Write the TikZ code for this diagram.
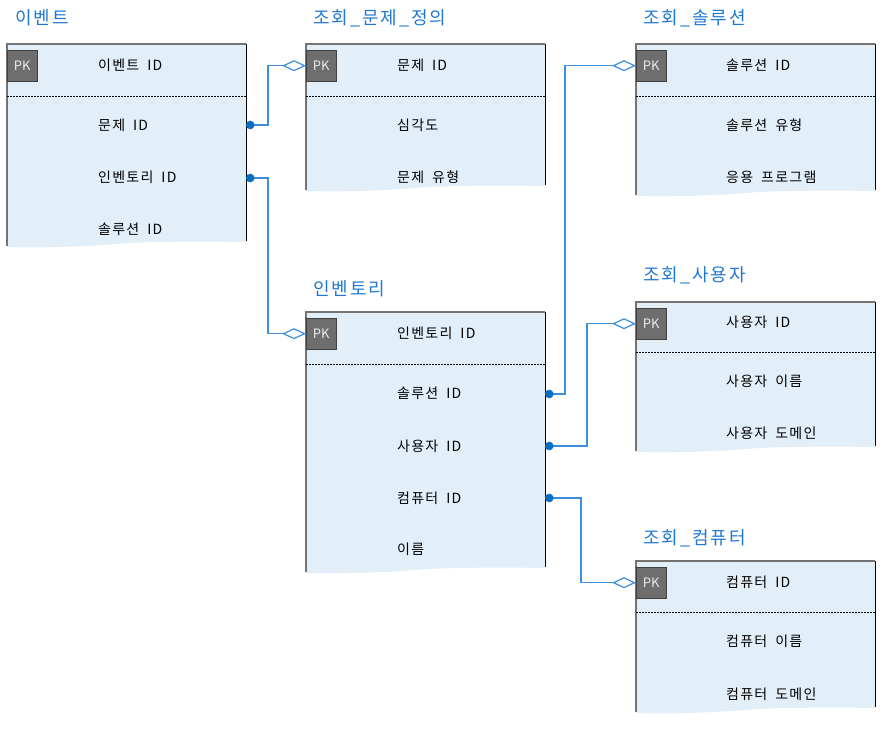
\documentclass[tikz,border=0pt]{standalone}
\usepackage{fontspec}
\setmainfont{Noto Sans CJK KR}
\newfontfamily\fieldfont[LetterSpace=9, WordSpace=1.8]{Noto Sans CJK KR}
\usetikzlibrary{arrows.meta, positioning}

\definecolor{titleblue}{HTML}{1F78D1}
\definecolor{linkblue}{HTML}{3D8FDD}
\definecolor{dotblue}{HTML}{0A6CC2}
\definecolor{rowfill}{HTML}{E3EFF8}
\definecolor{pkgray}{HTML}{6E6E6E}

\begin{document}
\begin{tikzpicture}[
  x=1pt, y=-1pt,
  title/.style={anchor=west, text=titleblue, inner sep=0,
                font=\fontsize{18}{20}\selectfont\addfontfeature{LetterSpace=11}},
  field/.style={anchor=west, inner sep=0,
                font=\fieldfont\fontsize{14}{16}\selectfont},
  pk/.style={draw=black!75, fill=pkgray, text=white!92!black, anchor=north west,
             minimum width=30pt, minimum height=31pt, inner sep=0,
             font=\fontsize{13}{15}\selectfont},
  fk/.style={draw=linkblue, line width=1.2pt,
             {Circle[length=8.5pt, color=dotblue]}-{Diamond[length=24pt, width=11pt, fill=white]}}
]
  \useasboundingbox (0,0) rectangle (882,744);

  % table frames
  \foreach \x/\t/\d/\b [count=\i] in {7/44/96/247, 306/44/96/191, 636/44/96/196,
                                      306/312/364/573, 636/302/352/452, 636/561/612/713} {
    \fill[rowfill] (\x,\t) -- (\x+239,\t) -- (\x+239,\b-5)
      .. controls (\x+180,\b-6) and (\x+130,\b-5) .. (\x+110,\b-3)
      .. controls (\x+70,\b) and (\x+30,\b+1) .. (\x,\b) -- cycle;
    \draw[black!55, line width=1.4pt] (\x,\b-1) -- (\x,\t) -- (\x+239,\t);
    \draw[black, line width=0.9pt] (\x+239,\t) -- (\x+239,\b-6);
    \draw[black, line width=0.8pt, dash pattern=on 2pt off 1pt] (\x,\d) -- (\x+239,\d);
    \node[pk] (pk\i) at (\x,\t+6) {PK};
  }

  % titles
  \node[title] (evt)  at (15,18)  {이벤트};
  \node[title] (prob) at (313,18) {조회\_문제\_정의};
  \node[title] (sol)  at (643,18) {조회\_솔루션};
  \node[title] (inv)  at (313,289) {인벤토리};
  \node[title] (usr)  at (643,275) {조회\_사용자};
  \node[title] (comp) at (643,538) {조회\_컴퓨터};

  % fields
  \node[field] (evtId)    at (98,65)   {이벤트 ID};
  \node[field] (evtProb)  at (98,125)  {문제 ID};
  \node[field] (evtInv)   at (98,177)  {인벤토리 ID};
  \node[field] (evtSol)   at (98,229)  {솔루션 ID};
  \node[field] (probId)   at (397,65)  {문제 ID};
  \node[field] (probSev)  at (397,125) {심각도};
  \node[field] (probType) at (397,177) {문제 유형};
  \node[field] (solId)    at (726,65)  {솔루션 ID};
  \node[field] (solType)  at (726,125) {솔루션 유형};
  \node[field] (solApp)   at (726,177) {응용 프로그램};
  \node[field] (invId)    at (397,333) {인벤토리 ID};
  \node[field] (invSol)   at (397,393) {솔루션 ID};
  \node[field] (invUsr)   at (397,446) {사용자 ID};
  \node[field] (invComp)  at (397,498) {컴퓨터 ID};
  \node[field] (invName)  at (397,549) {이름};
  \node[field] (usrId)    at (726,322) {사용자 ID};
  \node[field] (usrName)  at (726,381) {사용자 이름};
  \node[field] (usrDom)   at (726,433) {사용자 도메인};
  \node[field] (compId)   at (726,582) {컴퓨터 ID};
  \node[field] (compName) at (726,641) {컴퓨터 이름};
  \node[field] (compDom)  at (726,694) {컴퓨터 도메인};

  % foreign key ends
  \coordinate (evtProbR) at (246,125);
  \coordinate (evtInvR)  at (246,178);
  \coordinate (invSolR)  at (545,394);
  \coordinate (invUsrR)  at (545,446);
  \coordinate (invCompR) at (545,498);

  \draw[fk] (evtProbR) -- ++(22,0) |- (pk2.west);
  \draw[fk] (evtInvR)  -- ++(22,0) |- (pk4.west);
  \draw[fk] (invSolR)  -- ++(20,0) |- (pk3.west);
  \draw[fk] (invUsrR)  -- ++(42,0) |- (pk5.west);
  \draw[fk] (invCompR) -- ++(36,0) |- (pk6.west);
\end{tikzpicture}
\end{document}
